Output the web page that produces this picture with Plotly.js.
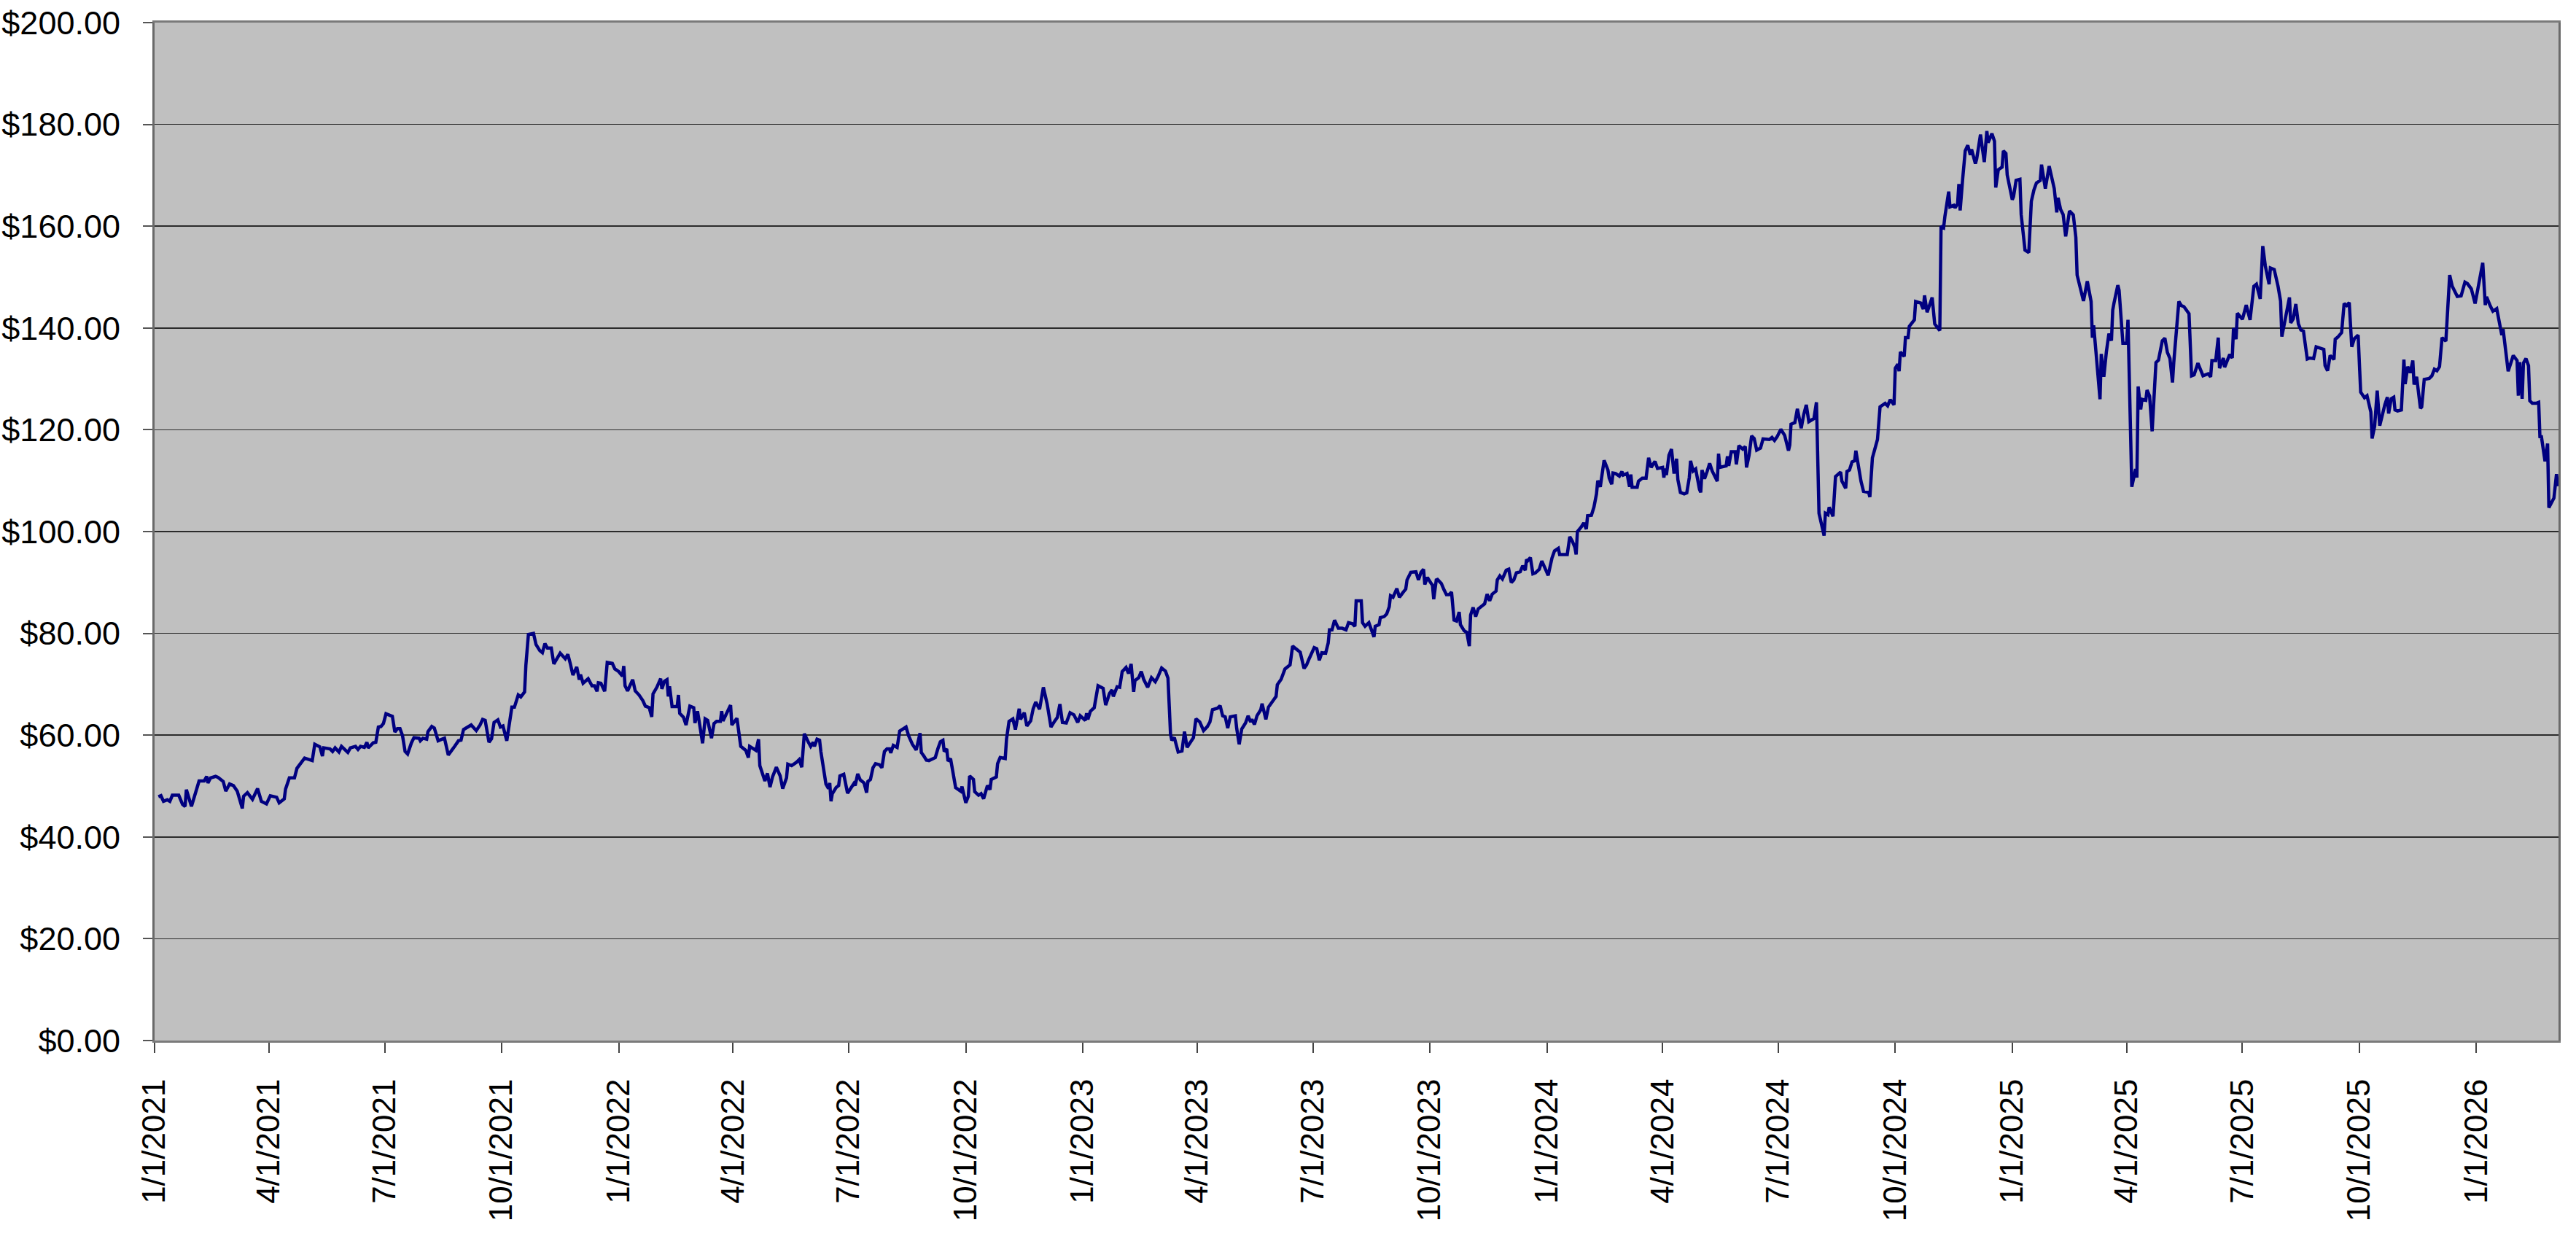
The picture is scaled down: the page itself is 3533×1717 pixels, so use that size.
<!DOCTYPE html>
<html>
<head>
<meta charset="utf-8">
<script src="https://cdn.plot.ly/plotly-3.0.1.min.js"></script>
<style>html,body{margin:0;padding:0;background:#fff;}#chart{width:3533px;height:1717px;}</style>
</head>
<body>
<div id="chart"></div>
<script>
// Day offsets counted from 1/1/2021 (day 0)
const dayOffsets = [
3,5,7,10,12,14,19,22,24,25,29,31,35,39,41,42,44,48,50,54,56,59,62,65,67,69,70,73,77,81,84,88,91,96,98,102,103,106,110,112,118,124,126,130,132,133,138,140,142,145,147,152,154,158,160,162,165,167,168,172,174,176,178,180,182,187,189,191,193,195,197,199,202,204,208,209,211,214,215,218,220,223,228,231,236,239,241,243,
249,253,256,258,260,263,265,267,270,272,274,277,281,283,286,288,291,292,294,298,300,303,305,307,309,312,314,319,323,325,327,329,332,334,335,337,341,344,346,348,349,351,354,356,360,362,365,368,369,370,372,376,378,381,384,386,389,391,392,395,398,399,401,403,404,405,407,411,412,413,416,418,421,424,425,427,429,431,433,435,438,440,442,445,446,447,453,454,458,461,465,467,468,470,473,475,476,480,482,484,486,489,492,494,497,498,501,
505,507,509,511,514,516,518,519,521,523,524,526,528,530,531,532,533,536,538,539,542,545,548,550,551,553,555,558,560,561,563,565,567,570,572,574,576,578,579,581,584,586,591,593,596,599,602,603,605,607,609,614,616,618,620,621,623,624,626,630,634,635,638,640,641,644,645,648,650,652,655,657,658,662,663,665,669,670,672,675,677,680,681,684,686,689,691,693,696,699,702,705,708,710,712,714,717,720,723,726,728,732,733,734,736,739,742,746,748,751,753,754,
757,759,761,764,766,768,770,771,774,776,778,781,784,787,789,792,795,797,799,800,802,804,805,808,810,812,815,817,819,822,825,828,830,832,836,838,840,842,844,846,850,851,853,855,858,860,862,863,865,867,870,871,874,876,880,882,883,886,889,893,895,898,901,904,906,908,912,914,916,918,921,923,924,926,928,931,934,937,939,942,944,945,949,950,952,955,957,959,960,963,964,967,969,971,972,974,977,979,982,984,985,988,992,994,996,998,999,1001,1004,1005,1006,1008,
1009,1012,1014,1016,1018,1020,1022,1024,1026,1027,1030,1032,1034,1035,1037,1039,1041,1044,1046,1048,1050,1052,1055,1056,1058,1060,1063,1065,1067,1069,1071,1074,1076,1078,1079,1080,1082,1084,1086,1089,1091,1093,1096,1099,1101,1104,1105,1111,1113,1115,1117,1118,1119,1122,1124,1126,1127,1130,1132,1134,1135,1137,1138,1140,1143,1144,1146,1147,1149,1152,1154,1155,1158,1160,1161,1162,1166,1167,1170,1173,1175,1177,1180,1182,1186,1187,1188,1189,1191,1193,1195,1197,1198,1200,1203,1205,1207,1208,1210,1212,1215,1216,1217,1219,1221,1223,1225,1229,1230,1231,1236,1237,1238,1240,1243,1244,1246,1249,1251,1252,1254,1256,1258,1260,
1263,1265,1270,1272,1274,1276,1279,1282,1285,1286,1287,1290,1292,1295,1297,1299,1301,1305,1307,1309,1313,1314,1316,1317,1320,1321,1322,1326,1327,1330,1331,1333,1335,1337,1338,1342,1344,1348,1349,1351,1355,1357,1361,1363,1365,1368,1369,1371,1372,1373,1376,1377,1379,1380,1384,1385,1389,1391,1392,1394,1398,1400,1404,1405,1407,1408,1411,1412,1415,1416,1418,1419,1420,1422,1424,1426,1428,1429,1432,1433,1436,1439,1441,1442,1445,1447,1448,1450,1453,1454,1456,1457,1461,1462,1464,1467,1468,1471,1474,1476,1478,1480,1483,1484,1487,1490,1494,1496,1497,1499,1501,1503,1506,1509,1511,1512,1514,1517,1520,1523,1524,1525,1527,1530,1531,1533,1535,1537,1539,1540,1541,1544,1545,1548,1551,1552,1555,1558,1559,1560,1562,1563,1566,1567,1569,1571,1574,1576,1579,1581,1583,1585,1587,1588,1592,1594,
1596,1598,1600,1602,1604,1607,1610,1611,1615,1617,1618,1621,1623,1624,1627,1628,1632,1634,1635,1637,1638,1642,1645,1648,1651,1653,1656,1658,1660,1663,1664,1667,1670,1672,1673,1676,1679,1680,1682,1684,1686,1688,1690,1693,1695,1698,1700,1706,1707,1709,1711,1714,1715,1717,1720,1722,1724,1726,1728,1730,1733,1735,1738,1740,1743,1744,1746,1748,1750,1754,1756,1757,1759,1761,1762,1764,1767,1769,1770,1772,1774,1776,1777,1779,1782,1783,1784,1785,1789,1791,1793,1795,1797,1799,1802,1805,1807,1809,1811,1814,1817,1819,1822,1825,1829,1831,1833,1834,1837,1839,1842,1845,1846,1847,1849,1851,1855,1858,1859,1860,1862,1863,1865,1867,1868,1870,1873,1875,1876,1877,1880,1882,1883,1887,1889,1890
];

const prices = [
47.9,48.1,47.0,47.3,47.0,48.2,48.2,46.4,46.0,49.3,46.0,47.5,51.0,51.0,51.9,50.6,51.6,51.9,51.7,50.9,49.0,50.4,50.1,49.0,47.0,45.6,48.0,48.7,47.4,49.5,47.0,46.5,48.1,47.8,46.7,47.5,49.4,51.6,51.6,53.5,55.5,55.0,58.2,57.7,55.9,57.5,57.3,56.8,57.5,56.7,57.8,56.6,57.5,57.8,57.2,57.8,57.6,58.6,57.5,58.5,58.6,61.6,61.7,62.3,64.2,63.7,60.6,61.3,61.3,59.9,56.8,56.3,58.5,59.5,59.4,58.9,59.4,59.2,60.7,61.7,61.4,58.9,59.4,56.1,57.8,58.9,59.0,61.1,
62.0,60.9,62.0,63.1,62.9,58.6,59.3,62.5,63.0,61.6,61.8,58.9,65.5,65.5,67.9,67.5,68.5,73.7,79.8,80.0,77.8,76.6,76.2,78.0,77.1,77.1,74.0,76.1,75.0,75.9,74.0,71.8,73.4,70.9,71.9,70.2,71.1,69.7,69.7,68.6,70.3,70.2,68.6,74.3,74.1,73.0,72.5,71.6,73.6,69.7,68.7,70.9,68.7,67.9,66.8,65.7,65.4,63.6,68.1,69.4,71.1,69.1,70.6,70.9,67.6,69.6,65.6,65.6,67.9,64.3,63.5,62.0,65.7,65.4,62.4,64.7,61.6,58.4,63.2,62.9,59.4,62.3,62.7,62.7,64.7,62.8,65.9,62.0,63.3,57.8,57.0,55.6,57.8,57.5,57.0,59.2,54.0,51.0,52.5,49.8,51.8,53.7,52.0,49.5,51.6,54.3,54.0,
54.7,55.2,53.7,60.3,58.7,57.8,58.6,57.8,59.2,59.0,56.8,53.5,50.4,49.5,50.6,47.0,48.5,49.7,50.1,52.0,52.3,48.6,49.7,50.5,50.1,52.4,51.2,50.6,48.7,50.9,51.3,53.6,54.4,54.2,53.6,56.8,57.3,57.3,56.5,58.0,57.6,60.8,61.6,59.9,58.2,57.1,60.4,56.6,55.9,55.1,55.0,55.6,57.3,58.7,59.0,56.8,57.3,54.9,55.4,49.7,49.0,49.9,46.7,48.0,52.0,51.3,48.9,48.2,48.5,47.5,50.1,49.3,51.3,51.8,54.4,55.6,55.4,59.2,62.7,63.2,61.1,65.2,63.1,64.4,61.8,62.8,65.2,66.5,65.1,69.4,66.1,61.6,62.8,63.5,66.1,62.5,62.4,64.4,64.0,62.5,63.8,62.9,64.3,63.1,64.7,65.4,69.7,69.2,65.9,68.2,68.9,67.6,
69.5,69.4,72.5,73.3,72.1,74.0,68.5,70.7,71.3,72.5,70.9,69.4,71.3,70.5,71.4,73.2,72.6,71.2,60.2,59.0,59.5,57.9,56.7,56.9,60.7,57.6,58.8,59.5,63.2,62.6,60.9,61.7,62.6,65.0,65.3,65.8,63.8,63.6,61.4,63.6,63.8,61.4,58.2,61.2,62.4,63.8,62.6,63.1,62.1,63.8,65.0,66.2,63.1,65.5,66.9,67.6,69.9,71.0,73.0,73.8,77.5,76.9,76.3,73.1,73.8,75.0,77.2,77.0,74.7,76.2,76.1,78.1,80.7,80.7,82.6,81.0,81.0,80.7,82.1,81.9,81.4,86.4,86.4,82.1,81.4,82.1,80.7,79.3,81.4,81.7,83.1,83.3,83.8,85.2,87.4,87.1,88.8,87.1,88.1,88.7,90.5,92.0,92.1,90.5,92.0,92.6,89.6,91.0,89.8,89.5,86.7,90.5,
90.6,89.8,88.6,87.6,87.6,88.1,82.6,82.4,84.2,81.7,80.5,80.2,77.5,83.6,85.1,83.3,84.8,85.5,85.8,87.7,86.4,87.7,88.3,90.5,91.3,90.7,92.4,92.6,90.0,90.5,91.9,92.1,93.3,92.4,94.5,94.3,94.9,91.7,91.9,92.6,94.2,93.1,91.4,94.8,96.2,96.7,95.5,95.5,99.0,98.1,96.9,95.5,100.0,100.9,101.7,100.5,103.1,103.2,104.8,107.4,110.0,108.8,110.6,114.0,112.1,110.5,109.3,111.5,111.4,110.9,111.8,111.1,111.4,108.8,111.2,108.7,108.7,109.9,110.5,110.5,114.5,112.6,113.8,112.4,112.6,110.6,112.4,111.1,115.0,116.2,111.4,114.3,110.2,107.7,107.4,107.6,110.6,113.9,111.9,112.3,108.3,107.7,112.1,110.4,111.8,113.4,111.9,109.9,115.3,112.6,112.9,114.8,112.9,115.7,115.7,113.2,116.9,116.2,116.7,112.6,115.0,118.8,118.3,116.0,
116.4,118.2,118.1,118.5,117.9,118.6,120.1,118.9,115.9,117.0,121.1,121.4,124.1,120.3,123.0,124.9,121.6,122.2,125.4,103.6,99.2,103.6,103.3,104.8,103.0,106.0,110.8,111.7,109.9,108.5,111.8,112.1,113.7,113.9,115.9,109.9,107.9,107.7,106.8,114.5,118.1,124.5,125.2,124.7,125.9,124.9,132.1,132.9,131.5,135.3,134.4,138.1,138.1,140.3,141.6,145.2,144.9,143.7,146.4,143.1,146.0,140.8,139.5,160.0,159.7,161.9,166.8,163.8,164.1,163.6,164.4,168.3,163.1,169.3,174.8,175.9,174.0,175.1,172.3,173.2,178.0,172.6,178.7,176.4,178.2,176.7,167.6,171.1,171.6,174.8,174.3,170.1,165.2,165.8,169.0,169.2,162.3,155.3,154.8,164.9,167.1,168.5,169.0,172.1,167.4,171.8,167.4,162.7,165.6,163.3,162.3,158.0,163.0,162.2,157.8,150.4,148.2,145.3,149.2,145.2,138.1,140.5,134.8,126.0,134.9,130.4,135.3,138.9,137.5,143.5,144.9,148.4,147.4,137.0,137.0,141.6,108.8,112.3,110.6,128.5,124.0,126.0,125.8,127.8,126.6,119.7,133.2,133.7,137.5,138.0,135.2,134.0,129.3,133.2,145.2,144.4,
144.2,143.5,142.8,130.6,130.8,133.1,131.4,130.6,131.0,130.4,133.6,133.6,138.1,132.1,134.1,132.3,134.8,134.1,140.0,137.8,142.9,141.7,144.5,141.6,148.2,148.6,145.7,156.1,152.2,148.6,151.8,151.5,148.2,145.3,138.3,141.8,146.0,141.0,141.8,144.7,140.8,139.6,139.4,133.9,134.1,134.0,136.3,135.8,132.6,131.6,134.6,133.8,137.8,138.2,139.1,144.8,144.4,145.0,136.3,137.9,138.6,127.4,126.3,126.7,123.5,118.3,120.7,127.7,120.8,124.9,126.4,123.2,126.1,126.4,123.9,123.7,123.9,133.8,129.0,132.4,131.2,133.6,128.9,130.4,124.2,124.5,126.7,129.9,130.1,130.6,131.9,131.6,132.4,138.1,137.4,150.4,148.2,147.1,146.2,146.3,149.0,148.7,147.7,144.8,149.7,152.8,144.5,146.1,144.3,143.3,143.8,140.2,138.6,139.8,135.8,131.5,134.6,133.6,126.7,133.3,126.1,133.1,134.0,132.6,125.7,125.2,125.2,125.4,118.4,118.9,113.8,117.3,104.7,106.6,111.3,108.9
];

const baseDate = '2021-01-01';
const xRange = ['2021-01-01', '2026-03-06 14:00'];
const yTicks = [0, 20, 40, 60, 80, 100, 120, 140, 160, 180, 200];

const base = Date.UTC(2021, 0, 1);
const dates = dayOffsets.map(d => new Date(base + d * 86400000).toISOString().slice(0, 10));

const trace = {
  x: dates,
  y: prices,
  type: 'scatter',
  mode: 'lines',
  line: {color: '#000080', width: 4.5},
  hoverinfo: 'skip'
};

const xFont = {family: 'Liberation Sans, Arial, sans-serif', size: 44, color: '#000'};
const yFont = {family: 'Liberation Sans, Arial, sans-serif', size: 45, color: '#000'};

const layout = {
  width: 3533,
  height: 1717,
  margin: {l: 212, r: 24, t: 31, b: 290, pad: 0},
  paper_bgcolor: '#ffffff',
  plot_bgcolor: '#c0c0c0',
  showlegend: false,
  font: xFont,
  xaxis: {
    type: 'date',
    range: xRange,
    tick0: baseDate,
    dtick: 'M3',
    tickformat: '%-m/%-d/%Y',
    tickangle: -90,
    ticks: 'outside',
    ticklen: 14,
    tickwidth: 2,
    tickcolor: '#444',
    ticklabelstandoff: 18,
    showgrid: false,
    zeroline: false,
    showline: true,
    linecolor: '#7a7a7a',
    linewidth: 3,
    mirror: true,
    tickfont: xFont
  },
  yaxis: {
    range: [0, 200],
    tickvals: yTicks,
    tickformat: '$.2f',
    ticks: 'outside',
    ticklen: 13,
    tickwidth: 2,
    tickcolor: '#555',
    ticklabelstandoff: 22,
    showgrid: true,
    gridcolor: '#2b2b2b',
    gridwidth: 1.5,
    zeroline: false,
    showline: true,
    linecolor: '#6a6a6a',
    linewidth: 3,
    mirror: true,
    tickfont: yFont
  }
};

Plotly.newPlot('chart', [trace], layout, {staticPlot: true, displayModeBar: false});
</script>
</body>
</html>
